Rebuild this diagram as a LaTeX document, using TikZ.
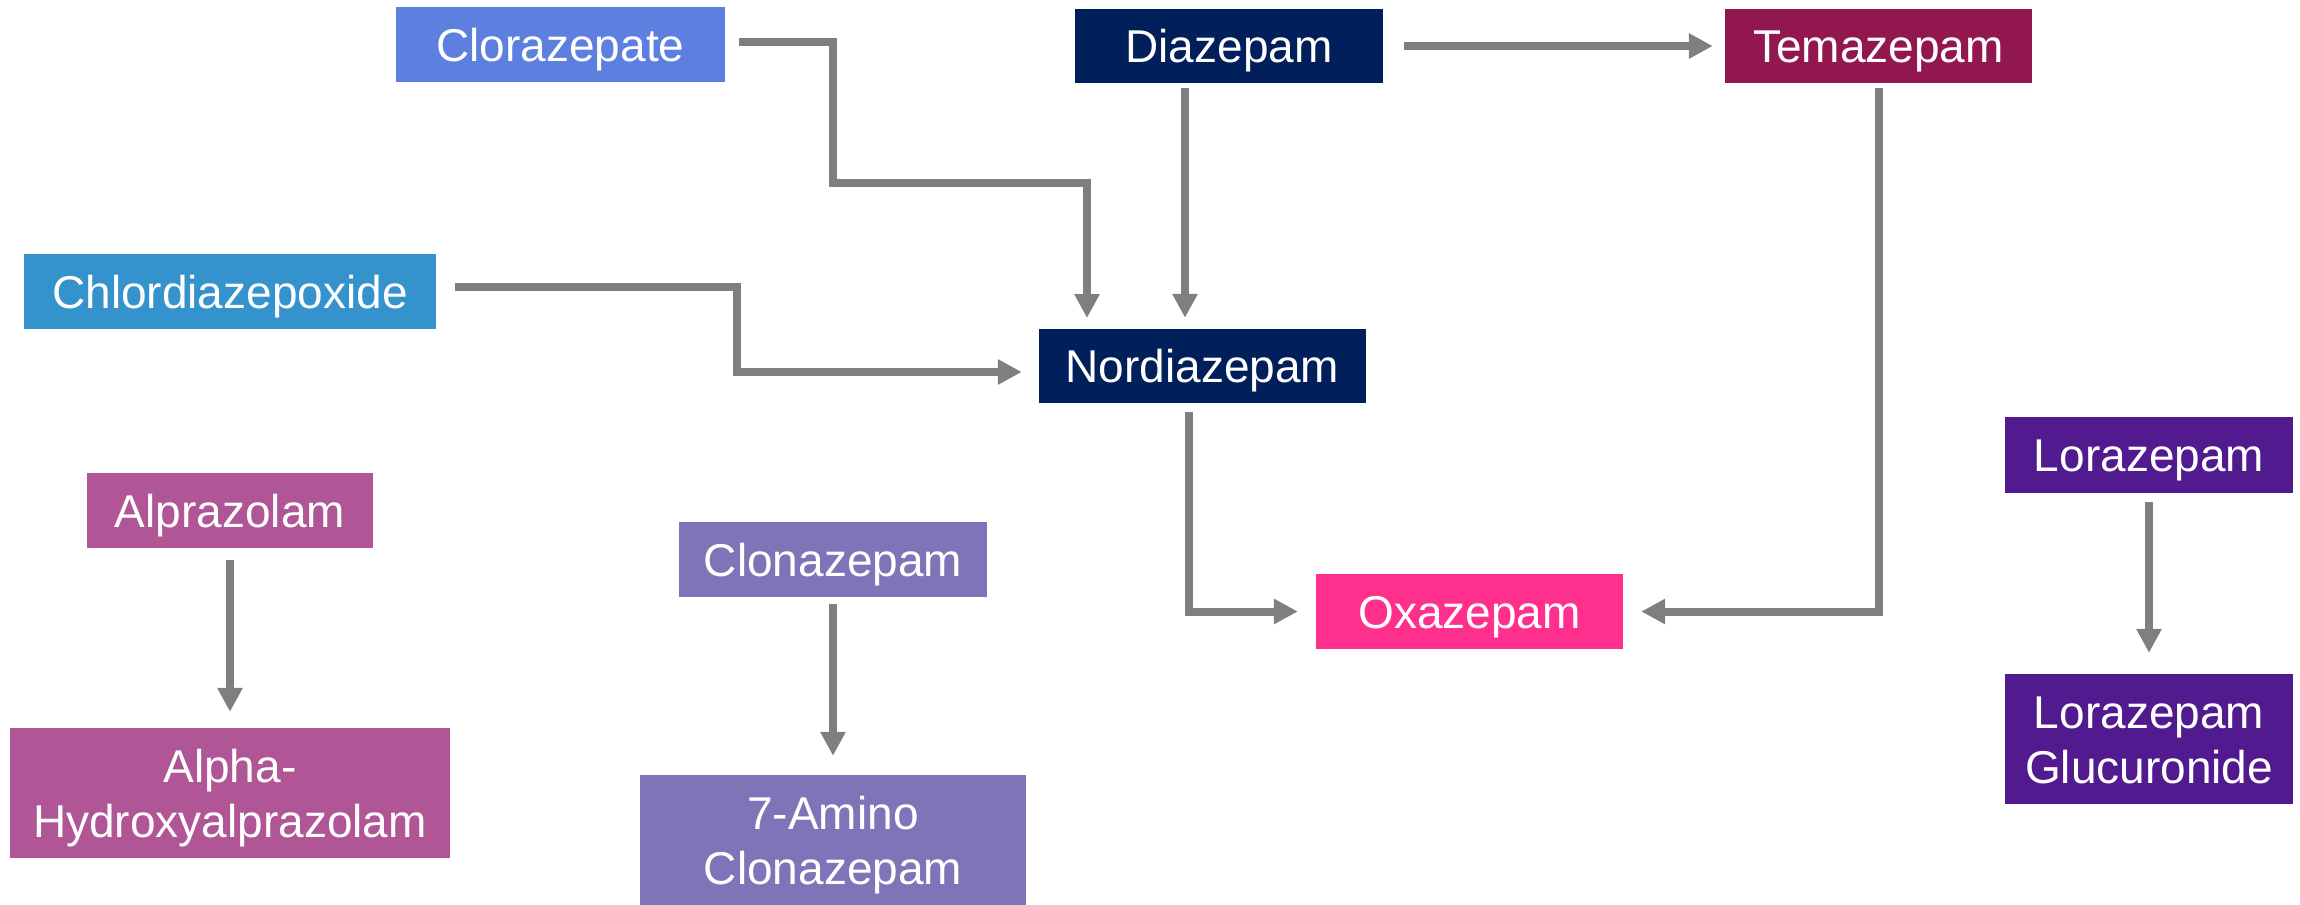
\documentclass[tikz,border=0pt]{standalone}
\usepackage{fontspec}
\setmainfont{Liberation Sans}
\usetikzlibrary{arrows.meta,calc}
\definecolor{cClor}{RGB}{92,127,224}
\definecolor{cNavy}{RGB}{0,31,91}
\definecolor{cTema}{RGB}{147,23,79}
\definecolor{cChlor}{RGB}{52,146,204}
\definecolor{cAlpr}{RGB}{176,85,149}
\definecolor{cClon}{RGB}{128,116,184}
\definecolor{cOxa}{RGB}{255,47,142}
\definecolor{cLora}{RGB}{82,26,143}
\definecolor{cArr}{RGB}{127,127,127}
\tikzset{
  drug/.style={draw=none, text=white, inner sep=0pt, align=center,
    font=\fontsize{46}{55}\selectfont, text height=33pt, text depth=0pt},
  drugtwo/.style={drug, text height=88pt, text depth=0pt},
  arr/.style={draw=cArr, line width=8pt, -{Triangle[length=24pt,width=24pt]}}
}
\begin{document}
\begin{tikzpicture}[x=1pt,y=-1pt]
\useasboundingbox (0,0) rectangle (2300,905);
% boxes
\node[drug, fill=cClor, minimum width=329pt, minimum height=75pt] (clor) at (560.5,44.5) {Clorazepate};
\node[drug, fill=cNavy, minimum width=308pt, minimum height=74pt] (diaz) at (1229,46) {Diazepam};
\node[drug, fill=cTema, minimum width=307pt, minimum height=74pt] (tema) at (1878.5,46) {Temazepam};
\node[drug, fill=cChlor, minimum width=412pt, minimum height=75pt] (chlor) at (230,291.5) {Chlordiazepoxide};
\node[drug, fill=cNavy, minimum width=327pt, minimum height=74pt] (nord) at (1202.5,366) {Nordiazepam};
\node[drug, fill=cAlpr, minimum width=286pt, minimum height=75pt] (alpr) at (230,510.5) {Alprazolam};
\node[drug, fill=cClon, minimum width=308pt, minimum height=75pt] (clon) at (833,559.5) {Clonazepam};
\node[drug, fill=cOxa, minimum width=307pt, minimum height=75pt] (oxa) at (1469.5,611.5) {Oxazepam};
\node[drug, fill=cLora, minimum width=288pt, minimum height=76pt] (lora) at (2149,455) {Lorazepam};
\node[drugtwo, fill=cAlpr, minimum width=440pt, minimum height=130pt] (ahyd) at (230,793) {Alpha-\\Hydroxyalprazolam};
\node[drugtwo, fill=cClon, minimum width=386pt, minimum height=130pt] (amino) at (833,840) {7-Amino\\Clonazepam};
\node[drugtwo, fill=cLora, minimum width=288pt, minimum height=130pt] (gluc) at (2149,739) {Lorazepam\\Glucuronide};
% bend points
\coordinate (k1) at (833,183);
\coordinate (k2) at (1087,329);
\coordinate (k3) at (737,372);
% connectors
\draw[arr, shorten <=14pt, shorten >=11pt] ([yshift=3pt]clor.east) -| (k1) -| (k2);
\draw[arr, shorten <=5pt, shorten >=11pt] ([xshift=-44pt]diaz.south) -- ([xshift=-44pt]diaz.south |- nord.north);
\draw[arr, shorten <=21pt, shorten >=12pt] (diaz.east) -- (tema.west);
\draw[arr, shorten <=19pt, shorten >=17pt] ([yshift=4.5pt]chlor.east) -| (k3) -- (nord.west |- k3);
\draw[arr, shorten <=9pt, shorten >=18pt] ([xshift=-13.5pt]nord.south) |- (oxa.west);
\draw[arr, shorten <=5pt, shorten >=18pt] (tema.south) |- (oxa.east);
\draw[arr, shorten <=12pt, shorten >=16pt] (alpr.south) -- (ahyd.north);
\draw[arr, shorten <=7pt, shorten >=19pt] (clon.south) -- (amino.north);
\draw[arr, shorten <=9pt, shorten >=21pt] (lora.south) -- (gluc.north);
\end{tikzpicture}
\end{document}
